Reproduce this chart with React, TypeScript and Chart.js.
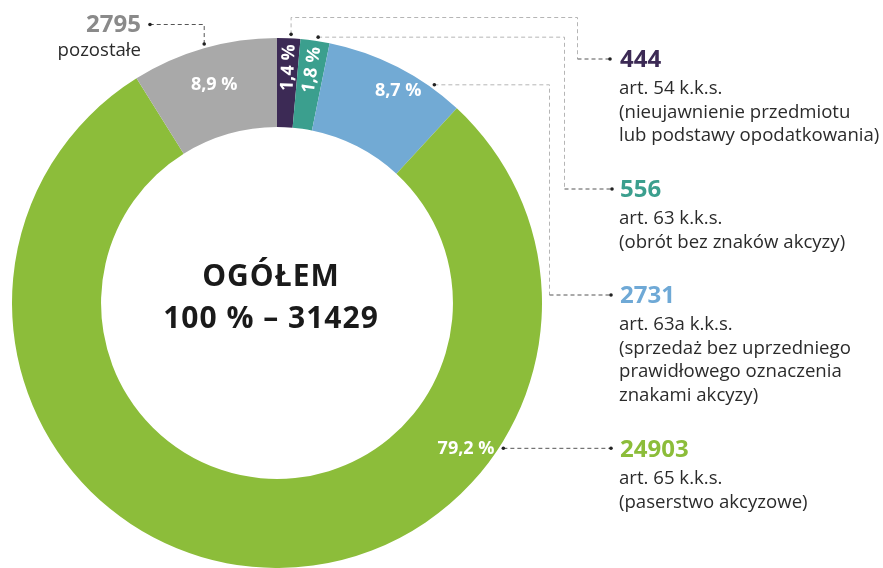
import React, { useEffect, useRef } from "react";
import { Chart, registerables } from "chart.js";

Chart.register(...registerables);

// ---- data ----
const categories = ["art. 54 k.k.s.", "art. 63 k.k.s.", "art. 63a k.k.s.", "art. 65 k.k.s.", "pozostałe"];
const values = [444, 556, 2731, 24903, 2795];
const descriptions: string[][] = [
  ["(nieujawnienie przedmiotu", "lub podstawy opodatkowania)"],
  ["(obrót bez znaków akcyzy)"],
  ["(sprzedaż bez uprzedniego", "prawidłowego oznaczenia", "znakami akcyzy)"],
  ["(paserstwo akcyzowe)"],
  [],
];
const centerTitle = "OGÓŁEM";

// ---- styles ----
const segColors = ["#3c2a55", "#3b9f8e", "#72aad4", "#8cbd3a", "#a9a9a9"];
const numColors = ["#3c2a55", "#3b9f8e", "#6fa9d6", "#8cbd3a", "#8a8a8a"];
const FONT = "'Open Sans', 'Noto Sans', sans-serif";

// label layout (angles in degrees from top, clockwise; null = mid angle)
const pctAngle: (number | null)[] = [null, null, 29.6, 127.5, null];
const pctRadiusFrac = [0.67, 0.67, 0.78, 0.7, 0.58];
const pctRotated = [true, true, false, false, false];
const anchorAngle = [3.0, 8.8, 35.8, 122.7, 344.3];
const legendX = 620;
const numBaseline = [67, 197, 303, 457];

const fmtPct = (v: number, t: number) => (v / t * 100).toFixed(1).replace(".", ",") + " %";

const annotPlugin = {
  id: "annot",
  afterDatasetsDraw(chart: any) {
    const ctx: any = chart.ctx;
    const meta = chart.getDatasetMeta(0);
    const arcs = meta.data as any[];
    const a0 = arcs[0];
    const cx = a0.x, cy = a0.y;
    const outer = a0.outerRadius, inner = a0.innerRadius;
    const total = values.reduce((s, v) => s + v, 0);
    const polar = (deg: number, r: number) => {
      const a = (deg * Math.PI) / 180 - Math.PI / 2;
      return [cx + r * Math.cos(a), cy + r * Math.sin(a)];
    };
    ctx.save();

    // percent labels
    arcs.forEach((arc: any, i: number) => {
      const mid = (((arc.startAngle + arc.endAngle) / 2 + Math.PI / 2) * 180) / Math.PI;
      const deg = pctAngle[i] ?? mid;
      const r = inner + pctRadiusFrac[i] * (outer - inner);
      const [x, y] = polar(deg, r);
      ctx.save();
      ctx.translate(x, y);
      if (pctRotated[i]) ctx.rotate((deg * Math.PI) / 180 - Math.PI / 2);
      ctx.fillStyle = "#ffffff";
      ctx.font = `bold 18px ${FONT}`;
      ctx.textAlign = "center";
      ctx.textBaseline = "middle";
      ctx.fillText(fmtPct(values[i], total), 0, 1);
      ctx.restore();
    });

    // leaders
    const dash = (pts: number[][], color: string) => {
      ctx.save();
      ctx.strokeStyle = color;
      ctx.lineWidth = 1;
      ctx.setLineDash([4, 3]);
      ctx.beginPath();
      ctx.moveTo(pts[0][0], pts[0][1]);
      for (let k = 1; k < pts.length; k++) ctx.lineTo(pts[k][0], pts[k][1]);
      ctx.stroke();
      ctx.restore();
    };
    const dot = (x: number, y: number) => {
      ctx.beginPath();
      ctx.fillStyle = "#222";
      ctx.arc(x, y, 1.8, 0, Math.PI * 2);
      ctx.fill();
    };
    const light = "#b5b5b5";
    const dark = "#555555";
    const anchors = anchorAngle.map((d) => polar(d, outer + 4));
    const endX = legendX - 10;
    // 0
    {
      const [ax, ay] = anchors[0];
      const ly = numBaseline[0] - 8;
      dash([[ax, ay], [ax, 17.5], [577.5, 17.5], [577.5, ly]], light);
      dash([[577.5, ly], [endX, ly]], dark);
      dot(ax, ay); dot(endX, ly);
    }
    // 1
    {
      const [ax, ay] = anchors[1];
      const ly = numBaseline[1] - 8;
      dash([[ax, ay], [564.5, ay], [564.5, ly]], light);
      dash([[564.5, ly], [endX + 2, ly]], dark);
      dot(ax, ay); dot(endX + 2, ly);
    }
    // 2
    {
      const [ax, ay] = anchors[2];
      const ly = numBaseline[2] - 8;
      dash([[ax, ay], [549.5, ay], [549.5, ly]], light);
      dash([[549.5, ly], [endX + 1, ly]], dark);
      dot(ax, ay); dot(endX + 1, ly);
    }
    // 3
    {
      const [ax, ay] = anchors[3];
      dash([[ax, ay], [endX + 1, ay]], dark);
      dot(ax, ay); dot(endX + 1, ay);
    }
    // 4
    {
      const [ax, ay] = anchors[4];
      dash([[ax, ay], [ax, 24.5], [150, 24.5]], dark);
      dot(ax, ay); dot(150, 24.5);
    }

    // right legend
    ctx.textAlign = "left";
    ctx.textBaseline = "alphabetic";
    for (let i = 0; i < 4; i++) {
      const y0 = numBaseline[i];
      ctx.fillStyle = numColors[i];
      ctx.font = `bold 24px ${FONT}`;
      ctx.fillText(String(values[i]), legendX, y0);
      ctx.fillStyle = "#2b2b2b";
      ctx.font = `18.6px ${FONT}`;
      const lines = [categories[i], ...descriptions[i]];
      lines.forEach((t, k) => ctx.fillText(t, legendX - 1, y0 + 27 + k * 23.6));
    }
    // 'pozostałe'
    ctx.textAlign = "right";
    ctx.fillStyle = numColors[4];
    ctx.font = `bold 24px ${FONT}`;
    ctx.fillText(String(values[4]), 141, 32);
    ctx.fillStyle = "#2b2b2b";
    ctx.font = `18.6px ${FONT}`;
    ctx.fillText(categories[4], 141, 56);

    // center
    ctx.textAlign = "center";
    ctx.fillStyle = "#1a1a1a";
    ctx.font = `bold 30px ${FONT}`;
    if ("letterSpacing" in ctx) ctx.letterSpacing = "1px";
    ctx.fillText(centerTitle, cx - 6, 286);
    ctx.fillText(`100 % – ${total}`, cx - 6, 328);
    if ("letterSpacing" in ctx) ctx.letterSpacing = "0px";

    ctx.restore();
  },
};

export default function App() {
  const ref = useRef<HTMLCanvasElement>(null);
  useEffect(() => {
    if (!ref.current) return;
    const chart = new Chart(ref.current, {
      type: "doughnut",
      data: {
        labels: categories,
        datasets: [
          {
            data: values,
            backgroundColor: segColors,
            borderWidth: 0,
            hoverOffset: 0,
            offset: 0,
          },
        ],
      },
      options: {
        responsive: false,
        animation: false,
        devicePixelRatio: 1,
        cutout: "66.4%",
        rotation: 0,
        layout: { padding: { left: 12, top: 38, right: 341, bottom: 0 } },
        plugins: { legend: { display: false }, tooltip: { enabled: false } },
        events: [],
      },
      plugins: [annotPlugin],
    });
    return () => chart.destroy();
  }, []);
  return (
    <div style={{ position: "absolute", left: 0, top: 0, width: 883, height: 568, background: "#fff" }}>
      <canvas ref={ref} width={883} height={568} style={{ display: "block" }} />
    </div>
  );
}
